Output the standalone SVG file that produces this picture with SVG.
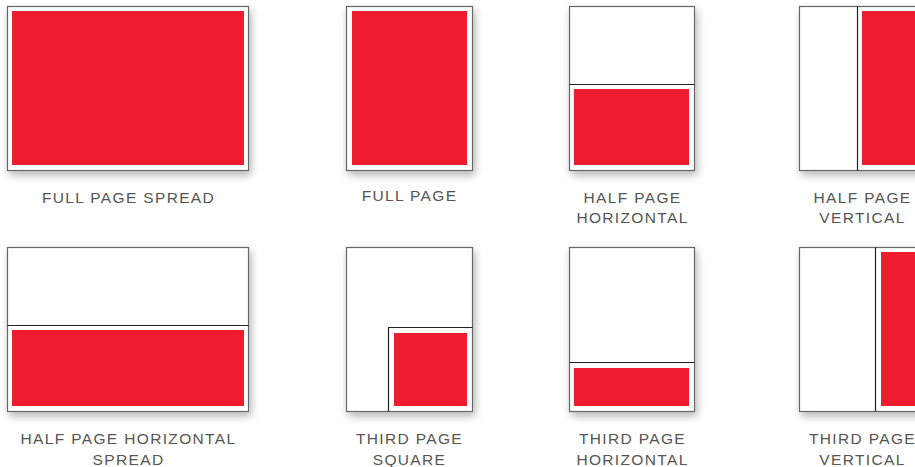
<svg xmlns="http://www.w3.org/2000/svg" width="915" height="467" viewBox="0 0 915 467">
<defs>
<filter id="sh" x="-15%" y="-15%" width="135%" height="140%">
<feGaussianBlur in="SourceAlpha" stdDeviation="4"/>
<feOffset dx="2" dy="4" result="b"/>
<feComponentTransfer><feFuncA type="linear" slope="0.3"/></feComponentTransfer>
<feMerge><feMergeNode/><feMergeNode in="SourceGraphic"/></feMerge>
</filter>
<style>
.frame{fill:#fff;stroke:#666;stroke-width:1.2;filter:url(#sh)}
.red{fill:#ED1C2E}
.div{stroke:#222;stroke-width:1.2;fill:none}
.lbl{font-family:"Liberation Sans",Arial,sans-serif;font-size:15.5px;letter-spacing:1.35px;fill:#555;text-anchor:middle}
</style>
</defs>
<rect width="915" height="467" fill="#fff"/>

<g id="full-page-spread">
<rect class="frame" x="7.5" y="6.5" width="241" height="164"/>
<rect class="red" x="12" y="11" width="232" height="154"/>
<text class="lbl" x="128.5" y="202.5">FULL PAGE SPREAD</text>
</g>

<g id="full-page">
<rect class="frame" x="346.5" y="6.5" width="126" height="164"/>
<rect class="red" x="352" y="11" width="115" height="154"/>
<text class="lbl" x="409.5" y="201">FULL PAGE</text>
</g>

<g id="half-page-horizontal">
<rect class="frame" x="569.5" y="6.5" width="125" height="164"/>
<line class="div" x1="569.5" y1="84.5" x2="694.5" y2="84.5"/>
<rect class="red" x="574" y="89" width="115" height="76"/>
<text class="lbl" x="632.5" y="202.5">HALF PAGE</text>
<text class="lbl" x="632.5" y="223">HORIZONTAL</text>
</g>

<g id="half-page-vertical">
<rect class="frame" x="799.5" y="6.5" width="126" height="164"/>
<line class="div" x1="857.5" y1="6.5" x2="857.5" y2="170.5"/>
<rect class="red" x="862" y="11" width="59" height="154"/>
<text class="lbl" x="862.5" y="202.5">HALF PAGE</text>
<text class="lbl" x="862.5" y="223">VERTICAL</text>
</g>

<g id="half-page-horizontal-spread">
<rect class="frame" x="7.5" y="247.5" width="241" height="164"/>
<line class="div" x1="7.5" y1="325.5" x2="248.5" y2="325.5"/>
<rect class="red" x="12" y="330" width="232" height="76"/>
<text class="lbl" x="128.5" y="444">HALF PAGE HORIZONTAL</text>
<text class="lbl" x="128.5" y="465">SPREAD</text>
</g>

<g id="third-page-square">
<rect class="frame" x="346.5" y="247.5" width="126" height="164"/>
<polyline class="div" points="388.5,411.5 388.5,327.5 472.5,327.5"/>
<rect class="red" x="394" y="333" width="73" height="73"/>
<text class="lbl" x="409.5" y="444">THIRD PAGE</text>
<text class="lbl" x="409.5" y="465">SQUARE</text>
</g>

<g id="third-page-horizontal">
<rect class="frame" x="569.5" y="247.5" width="125" height="164"/>
<line class="div" x1="569.5" y1="362.5" x2="694.5" y2="362.5"/>
<rect class="red" x="574" y="368" width="115" height="38"/>
<text class="lbl" x="632.5" y="444">THIRD PAGE</text>
<text class="lbl" x="632.5" y="465">HORIZONTAL</text>
</g>

<g id="third-page-vertical">
<rect class="frame" x="799.5" y="247.5" width="126" height="164"/>
<line class="div" x1="875.5" y1="247.5" x2="875.5" y2="411.5"/>
<rect class="red" x="881" y="252" width="40" height="154"/>
<text class="lbl" x="862.5" y="444">THIRD PAGE</text>
<text class="lbl" x="862.5" y="465">VERTICAL</text>
</g>
</svg>
